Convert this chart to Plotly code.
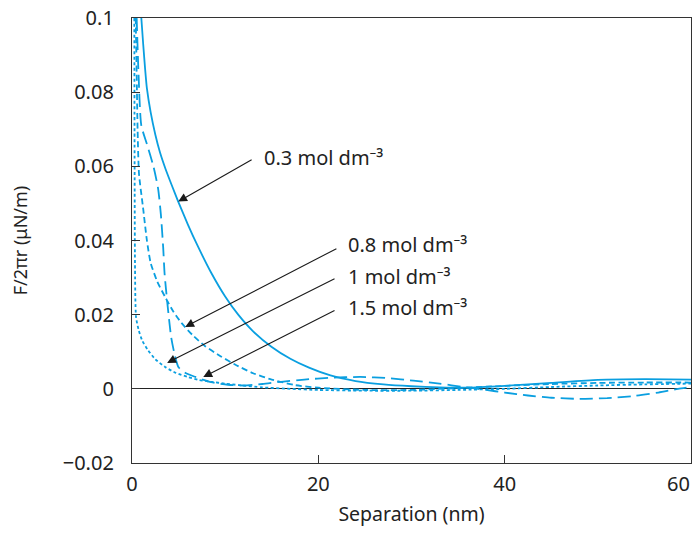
import plotly.graph_objects as go

# Separation (nm) and normalised force F/2πr (μN/m) for each electrolyte concentration
sep_03 = [1.0, 1.2, 1.4, 1.6, 2.0, 2.5, 3.0, 3.6, 4.3, 4.96, 6.0, 7.0, 8.5, 10, 11.4, 13, 15, 17,
          19, 21.3, 24, 27, 30, 33, 36, 40, 45, 50, 55, 60]
force_03 = [0.1, 0.093, 0.0865, 0.081, 0.0746, 0.0686, 0.0638, 0.0593, 0.0547, 0.0505, 0.0443,
            0.0388, 0.0313, 0.0249, 0.02, 0.0155, 0.0113, 0.0081, 0.0057, 0.0036, 0.0021, 0.0012,
            0.0007, 0.0004, 0.0003, 0.0008, 0.0016, 0.0024, 0.0026, 0.0025]

sep_08 = [0.4, 0.5, 0.6, 0.75, 1.18, 1.6, 2.0, 2.7, 3.55, 4.4, 5.3, 6.5, 7.85, 9.5, 11.1, 13, 15,
          17.5, 20, 25, 30, 35, 40, 45, 50, 55, 60]
force_08 = [0.1, 0.085, 0.07, 0.058, 0.049, 0.04, 0.034, 0.029, 0.0248, 0.021, 0.0178, 0.0145,
            0.0115, 0.0088, 0.0065, 0.0042, 0.0025, 0.001, 0.0003, -0.0003, -0.0003, 0.0002,
            0.0008, 0.0013, 0.0016, 0.0017, 0.0017]

sep_1 = [0.25, 0.28, 0.32, 0.43, 0.7, 1.1, 1.7, 2.5, 3.55, 4.7, 6.0, 7.2, 8.5, 10, 11.5, 14, 17,
         20, 25, 30, 35, 40, 45, 50, 55, 60]
force_1 = [0.1, 0.06, 0.034, 0.0194, 0.016, 0.013, 0.0105, 0.008, 0.0059, 0.0043, 0.0032, 0.0024,
           0.0019, 0.0014, 0.001, 0.0004, 0.0, -0.0003, -0.0005, -0.0005, -0.0003, 0.0, 0.0005,
           0.0009, 0.0012, 0.0014]

sep_15 = [0.5, 0.7, 1.0, 1.6, 2.3, 2.8, 3.1, 3.35, 3.5, 3.8, 4.2, 4.6, 5.0, 5.8, 6.8, 8.5, 10.3,
          12, 14, 16, 18.5, 21.3, 24.5, 27.5, 30.2, 33, 35.6, 38, 40, 42.5, 45, 48, 51, 54, 56.5,
          58.6, 60]
force_15 = [0.1, 0.085, 0.071, 0.066, 0.06, 0.054, 0.047, 0.038, 0.031, 0.023, 0.014, 0.009,
            0.0058, 0.0042, 0.0032, 0.0018, 0.0011, 0.0009, 0.0013, 0.0019, 0.0025, 0.003, 0.0032,
            0.0029, 0.0022, 0.0014, 0.0005, -0.0003, -0.001, -0.0018, -0.0024, -0.0027, -0.0025,
            -0.0019, -0.001, 0.0, 0.0005]

labels = ["0.3 mol dm⁻³", "0.8 mol dm⁻³", "1 mol dm⁻³", "1.5 mol dm⁻³"]
# arrow tip (on curve), arrow tail and label anchor, in data units
arrow_tips = [(4.96, 0.0505), (5.71, 0.0167), (3.77, 0.0070), (7.65, 0.0032)]
arrow_tails = [(13.0, 0.0620), (22.1, 0.0380), (21.9, 0.0299), (21.9, 0.0213)]
label_pos = [(14.0, 0.0625), (22.95, 0.0388), (22.95, 0.0302), (22.95, 0.0218)]

x_ticks = [0, 20, 40, 60]
x_ticktext = ["0", "20", "40", ""]   # "60" is drawn right-aligned at the frame below
y_ticks = [-0.02, 0, 0.02, 0.04, 0.06, 0.08, 0.1]
y_ticktext = ["−0.02", "0", "0.02", "0.04", "0.06", "0.08", "0.1"]
x_title = "Separation (nm)"
y_title = "F/2πr (μN/m)"

BLUE = "#0a9fe0"
INK = "#222"
FONT = "Noto Sans"

fig = go.Figure()
series = [
    (sep_03, force_03, "solid"),
    (sep_08, force_08, "6px,3.5px"),
    (sep_1, force_1, "3px,2.5px"),
    (sep_15, force_15, "13px,6px"),
]
for (xs, ys, dash), name in zip(series, labels):
    fig.add_trace(go.Scatter(
        x=xs, y=ys, mode="lines", name=name,
        line=dict(color=BLUE, width=1.8, dash=dash, shape="spline", smoothing=0.6),
        showlegend=False, hoverinfo="skip",
    ))

for (tx, ty), (ax, ay) in zip(arrow_tips, arrow_tails):
    fig.add_annotation(
        x=tx, y=ty, ax=ax, ay=ay, xref="x", yref="y", axref="x", ayref="y",
        text="", showarrow=True, arrowhead=2, arrowsize=1.6, arrowwidth=1.1,
        arrowcolor="#1a1a1a", standoff=0, startstandoff=0,
    )
for (lx, ly), txt in zip(label_pos, labels):
    fig.add_annotation(
        x=lx, y=ly, xref="x", yref="y", text=txt, showarrow=False,
        xanchor="left", yanchor="middle", font=dict(family=FONT, size=20, color=INK),
    )

# last x tick label, kept inside the right edge of the frame
fig.add_annotation(
    x=x_ticks[-1], y=-0.02, xref="x", yref="y", text=str(x_ticks[-1]), showarrow=False,
    xanchor="right", yanchor="middle", xshift=1, yshift=-20,
    font=dict(family=FONT, size=20, color=INK),
)

axis_common = dict(
    showline=True, linecolor="#333", linewidth=1.3, mirror=True,
    ticks="inside", ticklen=8, tickwidth=1.3, tickcolor="#333",
    showgrid=False,
    tickfont=dict(family=FONT, size=20, color=INK),
)
fig.update_xaxes(
    range=[0, 60], tickvals=x_ticks, ticktext=x_ticktext, zeroline=False,
    ticklabelstandoff=3, automargin=True,
    title=dict(text=x_title, font=dict(family=FONT, size=19.5, color=INK), standoff=11),
    **axis_common,
)
fig.update_yaxes(
    range=[-0.02, 0.1], tickvals=y_ticks, ticktext=y_ticktext,
    zeroline=True, zerolinecolor=INK, zerolinewidth=1.1,
    ticklabelstandoff=13, automargin=False,
    title=dict(text=y_title, font=dict(family=FONT, size=18, color=INK), standoff=30),
    **axis_common,
)
fig.update_layout(
    width=694, height=535,
    margin=dict(l=132, r=3, t=18, b=72),
    plot_bgcolor="white", paper_bgcolor="white",
    font=dict(family=FONT),
)

fig.write_html("out.html")
